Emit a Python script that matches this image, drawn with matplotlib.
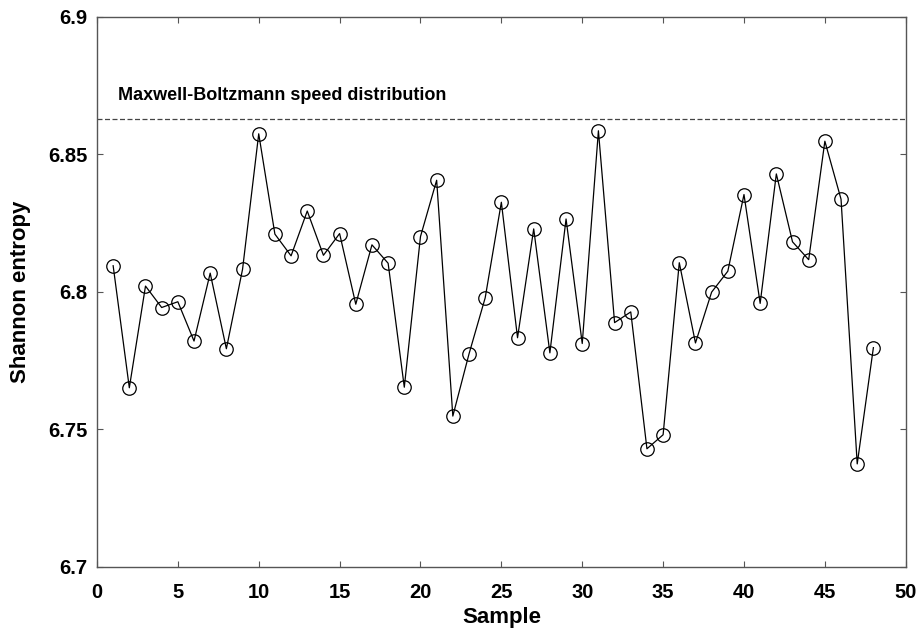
import matplotlib
matplotlib.use("Agg")
import matplotlib.pyplot as plt
import numpy as np

plt.rcParams['font.family'] = ['Liberation Sans', 'DejaVu Sans']

# Shannon entropy per sample
sample = np.arange(1, 49)
entropy = [6.8095, 6.7651, 6.8021, 6.7943, 6.7964, 6.7821, 6.8068, 6.7793,
           6.8082, 6.8575, 6.8210, 6.8131, 6.8294, 6.8133, 6.8212, 6.7955,
           6.8171, 6.8104, 6.7653, 6.8201, 6.8406, 6.7548, 6.7774, 6.7978,
           6.8326, 6.7833, 6.8229, 6.7778, 6.8265, 6.7812, 6.8586, 6.7888,
           6.7927, 6.7429, 6.7480, 6.8106, 6.7814, 6.7999, 6.8075, 6.8354,
           6.7958, 6.8429, 6.8182, 6.8117, 6.8548, 6.8337, 6.7374, 6.7797]
mb_entropy = 6.8629
mb_label = "Maxwell-Boltzmann speed distribution"

fig = plt.figure(figsize=(9.2, 6.31), dpi=100)
ax = fig.add_axes([0.1054, 0.1019, 0.8791, 0.8712])

ax.plot(sample, entropy, color='black', lw=0.9, marker='o', ms=9.7,
        mfc='none', mec='black', mew=0.9)
ax.axhline(mb_entropy, color='#444444', lw=0.9, ls=(0, (4, 2)))
ax.text(1.3, 6.8698, mb_label, fontsize=13, fontweight='bold', va='baseline')

ax.set_xlim(0, 50)
ax.set_ylim(6.7, 6.9)
ax.set_xticks(np.arange(0, 51, 5))
ax.set_yticks([6.7, 6.75, 6.8, 6.85, 6.9])
ax.set_yticklabels(['6.7', '6.75', '6.8', '6.85', '6.9'])
ax.tick_params(direction='in', top=True, right=True, length=4, width=0.8,
               color='#555555', labelsize=14.5)
ax.tick_params(axis='x', pad=12)
ax.tick_params(axis='y', pad=7)
for lab in ax.get_xticklabels() + ax.get_yticklabels():
    lab.set_fontweight('bold')
for s in ax.spines.values():
    s.set_color('#555555')
    s.set_linewidth(1.0)

ax.set_xlabel('Sample', fontsize=16, fontweight='bold', labelpad=3)
ax.set_ylabel('Shannon entropy', fontsize=16, fontweight='bold', labelpad=12)

fig.savefig('out.png', dpi=100)
